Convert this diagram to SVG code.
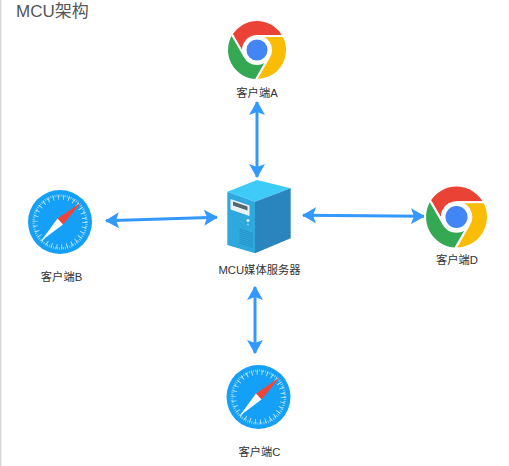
<svg xmlns="http://www.w3.org/2000/svg" width="509" height="466" viewBox="0 0 509 466">
<style>
text{font-family:"Liberation Sans","Noto Sans CJK SC",sans-serif;fill:#333}
.l{font-size:11.300px;text-anchor:middle}
.c{fill:none;stroke:#3399ff;stroke-width:3;marker-start:url(#ah);marker-end:url(#ah)}
.s{stroke:#fff;stroke-width:2;stroke-linejoin:round}
</style>
<defs>
<marker id="ah" viewBox="0 0 14 16" refX="13" refY="8" markerWidth="14" markerHeight="16" markerUnits="userSpaceOnUse" orient="auto-start-reverse">
<path d="M0 0L14 8L0 16L3 8Z" fill="#3399ff"/>
</marker>
<path id="seg" class="s" d="M0-14H26.500A30 30 0 0 0-25.400-16L-12.100 7A14 14 0 0 1 0-14Z"/>
<g id="chrome">
<use href="#seg" fill="#EA4335"/>
<use href="#seg" fill="#34A853" transform="rotate(-120)"/>
<use href="#seg" fill="#FBBC05" transform="rotate(120)"/>
<circle r="10.500" fill="#4285F4"/>
</g>
<g id="safari">
<circle r="32" fill="#14a0f7"/>
<circle r="26.500" fill="none" stroke="#fff" stroke-opacity=".65" stroke-width="2.500" stroke-dasharray=".7 1.380"/>
<circle r="24.500" fill="none" stroke="#fff" stroke-opacity=".8" stroke-width="4.500" stroke-dasharray=".8 4.330"/>
<path d="M21-19.500L-2.500-3.500L3 2.500Z" fill="#F44336"/>
<path d="M-19 19L-2.500-3.500L3 2.500Z" fill="#fff"/>
</g>
</defs>
<rect width="509" height="466" fill="#fff"/>
<rect width="1.500" height="466" fill="#d9d9d9"/>
<text x="16" y="17" font-size="17" style="fill:#555">MCU架构</text>
<g id="connectors">
<path class="c" d="M257 102V177"/>
<path class="c" d="M106 220.700L217 217.300"/>
<path class="c" d="M303 215.200L424 216.300"/>
<path class="c" d="M255 287V353"/>
</g>
<g id="clientA"><use href="#chrome" transform="translate(257 50)"/><text class="l" x="257" y="97">客户端A</text></g>
<g id="clientB"><use href="#safari" transform="translate(60 222)"/><text class="l" x="61.500" y="281">客户端B</text></g>
<g id="clientC"><use href="#safari" transform="translate(258.500 397)"/><text class="l" x="259.500" y="456">客户端C</text></g>
<g id="clientD"><use href="#chrome" transform="translate(456.500 217) scale(1.05)"/><text class="l" x="457" y="264">客户端D</text></g>
<g id="server">
<path d="M227.300 191.700L257 180L290.700 188.300L255 201.700Z" fill="#3ecbf8"/>
<path d="M227.300 191.700L255 201.700V253.300L227.300 245Z" fill="#2fa8de"/>
<path d="M255 201.700L290.700 188.300V238.300L255 253.300Z" fill="#2a84bd"/>
<path d="M230.500 199L249.500 205.500V216L230.500 209.500Z" fill="#e8f2f5"/>
<path d="M233 201.500L247.500 206.500V210.500L233 205.500Z" fill="#56656e"/>
<circle cx="248" cy="220.500" r="1.500" fill="#dff4fb"/>
<circle cx="248" cy="224.500" r=".9" fill="#8fd5ee"/>
<path d="M239.500 229L253 233.500M239.500 231L253 235.500M239.500 233L253 237.500M239.500 235L253 239.500M239.500 237L253 241.500M239.500 239L253 243.500M239.500 241L253 245.500M239.500 243L253 247.500" stroke="#2490c6" stroke-width=".9" fill="none"/>
<text class="l" x="259.500" y="274">MCU媒体服务器</text>
</g>
</svg>
